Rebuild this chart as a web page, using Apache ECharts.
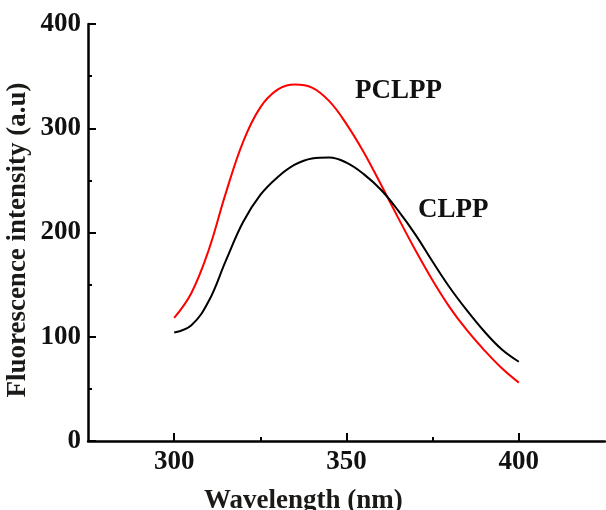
<!DOCTYPE html>
<html>
<head>
<meta charset="utf-8">
<script src="https://cdn.jsdelivr.net/npm/echarts@6/dist/echarts.min.js"></script>
<style>
  html, body { margin: 0; padding: 0; background: #fff; }
  #chart { width: 606px; height: 510px; }
</style>
</head>
<body>
<div id="chart"></div>
<script>
// wavelength (nm)
const wavelengths = [300, 305, 310, 315, 320, 325, 330, 335, 340, 345, 350, 355, 360, 365, 370, 375, 380, 385, 390, 395, 400];
// fluorescence intensity (a.u)
const pclpp = [118, 142, 183, 238, 287, 320, 337, 342, 339, 326, 304, 277, 246, 214, 183, 154, 128, 106, 87, 70, 56];
const clpp = [104, 111, 134, 173, 210, 236, 253, 265, 271, 272, 267, 256, 241, 221, 198, 172, 147, 125, 105, 88, 76];
const xMajorTicks = [300, 350, 400];
const xMinorTicks = [325, 375];

const font = '"Liberation Serif", "Times New Roman", serif';
const pair = (xs, ys) => xs.map((x, i) => [x, ys[i]]);

const chart = echarts.init(document.getElementById('chart'));
chart.setOption({
    animation: false,
    backgroundColor: '#fff',
    grid: {left: 88, right: 1, top: 24, bottom: 69},
    xAxis: [{
        type: 'value',
        min: 275,
        max: 425,
        splitLine: {show: false},
        axisLine: {lineStyle: {color: '#000', width: 2.5}},
        axisTick: {inside: true, length: 8, lineStyle: {color: '#000', width: 2}, customValues: xMajorTicks},
        axisLabel: {customValues: xMajorTicks, color: '#111', fontFamily: font, fontWeight: 'bold', fontSize: 27, margin: 8}
    }, {
        type: 'value',
        min: 275,
        max: 425,
        position: 'bottom',
        splitLine: {show: false},
        axisLine: {show: false},
        axisTick: {inside: true, length: 4, lineStyle: {color: '#000', width: 2}, customValues: xMinorTicks},
        axisLabel: {show: false}
    }],
    yAxis: {
        type: 'value',
        min: 0,
        max: 400,
        interval: 100,
        splitLine: {show: false},
        axisLine: {show: true, lineStyle: {color: '#000', width: 2.5}},
        axisTick: {show: true, inside: true, length: 8, lineStyle: {color: '#000', width: 2}},
        minorTick: {show: true, splitNumber: 2, length: 4, lineStyle: {color: '#000', width: 2}},
        axisLabel: {color: '#111', fontFamily: font, fontWeight: 'bold', fontSize: 27, margin: 7}
    },
    series: [
        {
            name: 'PCLPP',
            type: 'line',
            smooth: 0.4,
            symbol: 'none',
            data: pair(wavelengths, pclpp),
            lineStyle: {color: '#ff0000', width: 2}
        },
        {
            name: 'CLPP',
            type: 'line',
            smooth: 0.4,
            symbol: 'none',
            data: pair(wavelengths, clpp),
            lineStyle: {color: '#000', width: 2}
        }
    ],
    graphic: [
        {
            type: 'text', left: 355, top: 78,
            style: {text: 'PCLPP', font: 'bold 27px ' + font, fill: '#111'}
        },
        {
            type: 'text', left: 418, top: 197,
            style: {text: 'CLPP', font: 'bold 27px ' + font, fill: '#111'}
        },
        {
            type: 'text', left: 204, top: 488,
            style: {text: 'Wavelength (nm)', font: 'bold 27px ' + font, fill: '#1b1a17'}
        },
        {
            type: 'text', x: 18, y: 240, rotation: Math.PI / 2,
            style: {text: 'Fluorescence intensity (a.u)', font: 'bold 27px ' + font, fill: '#1b1a17', align: 'center', verticalAlign: 'middle'}
        }
    ]
});
</script>
</body>
</html>
